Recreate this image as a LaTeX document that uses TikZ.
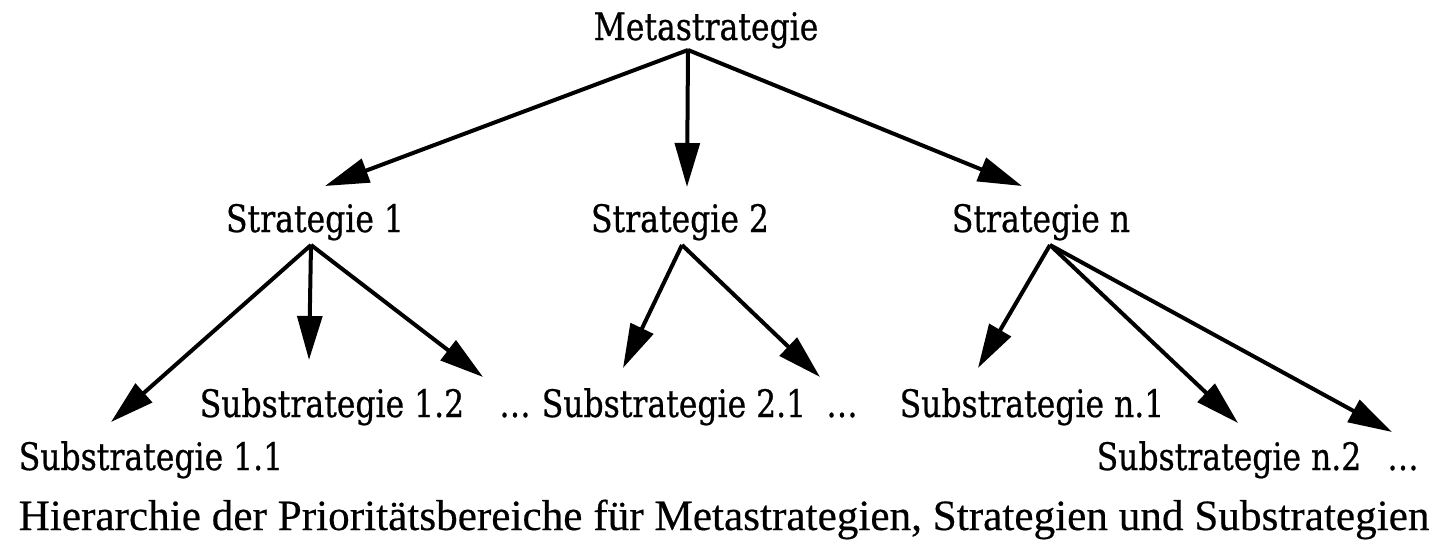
\documentclass[tikz,border=0pt]{standalone}
\usepackage{fontspec}
\newfontfamily\lblfont[FakeStretch=0.83,FakeBold=0.6]{DejaVu Serif}
\newfontfamily\capfont[FakeBold=0.4]{Liberation Serif}
\usetikzlibrary{arrows.meta}
\begin{document}
\begin{tikzpicture}[x=0.75pt,y=-0.75pt,
  lbl/.style={font=\lblfont\fontsize{28.4}{32}\selectfont, anchor=base, inner sep=0pt},
  captext/.style={font=\capfont\fontsize{32.4}{38}\selectfont, anchor=base, inner sep=0pt},
  arr/.style={line width=3pt, line join=miter, -{Triangle[length=33pt,width=18.5pt]}}]
\useasboundingbox (0,0) rectangle (1441,546);
% labels
\node[lbl] (meta) at (706,40) {Metastrategie};
\node[lbl] (s1) at (315,232) {Strategie 1};
\node[lbl] (s2) at (680,232) {Strategie 2};
\node[lbl] (sn) at (1041,232) {Strategie n};
\node[lbl] (ss12) at (332,417) {Substrategie 1.2};
\node[lbl] (d1) at (515,417) {…};
\node[lbl] (ss21) at (674,417) {Substrategie 2.1};
\node[lbl] (d2) at (842,417) {…};
\node[lbl] (ssn1) at (1032,417) {Substrategie n.1};
\node[lbl] (ss11) at (151,470) {Substrategie 1.1};
\node[lbl] (ssn2) at (1229,470) {Substrategie n.2};
\node[lbl] (d3) at (1403,470) {…};
\node[captext] (caption) at (724,530) {Hierarchie der Prioritätsbereiche für Metastrategien, Strategien und Substrategien};
% connector ends
\coordinate (meta-o) at (688,50);
\coordinate (s1-i) at (325,186);
\coordinate (s2-i) at (687,187);
\coordinate (sn-i) at (1022,186);
\coordinate (s1-o) at (311,245);
\coordinate (s2-o) at (682,245);
\coordinate (sn-o) at (1050,245);
\coordinate (ss11-i) at (111,422);
\coordinate (ss12-i) at (309,360);
\coordinate (ss1x-i) at (483,377);
\coordinate (ss21-i) at (623,368);
\coordinate (ss2x-i) at (820,377);
\coordinate (ssn1-i) at (978,368);
\coordinate (ssn2-i) at (1238,423);
\coordinate (ssnx-i) at (1392,432);
% connectors
\draw[arr] (meta-o) -- (s1-i);
\draw[arr] (meta-o) -- (s2-i);
\draw[arr] (meta-o) -- (sn-i);
\draw[arr] (s1-o) -- (ss11-i);
\draw[arr] (s1-o) -- (ss12-i);
\draw[arr] (s1-o) -- (ss1x-i);
\draw[arr] (s2-o) -- (ss21-i);
\draw[arr] (s2-o) -- (ss2x-i);
\draw[arr] (sn-o) -- (ssn1-i);
\draw[arr] (sn-o) -- (ssn2-i);
\draw[arr] (sn-o) -- (ssnx-i);
\end{tikzpicture}
\end{document}
